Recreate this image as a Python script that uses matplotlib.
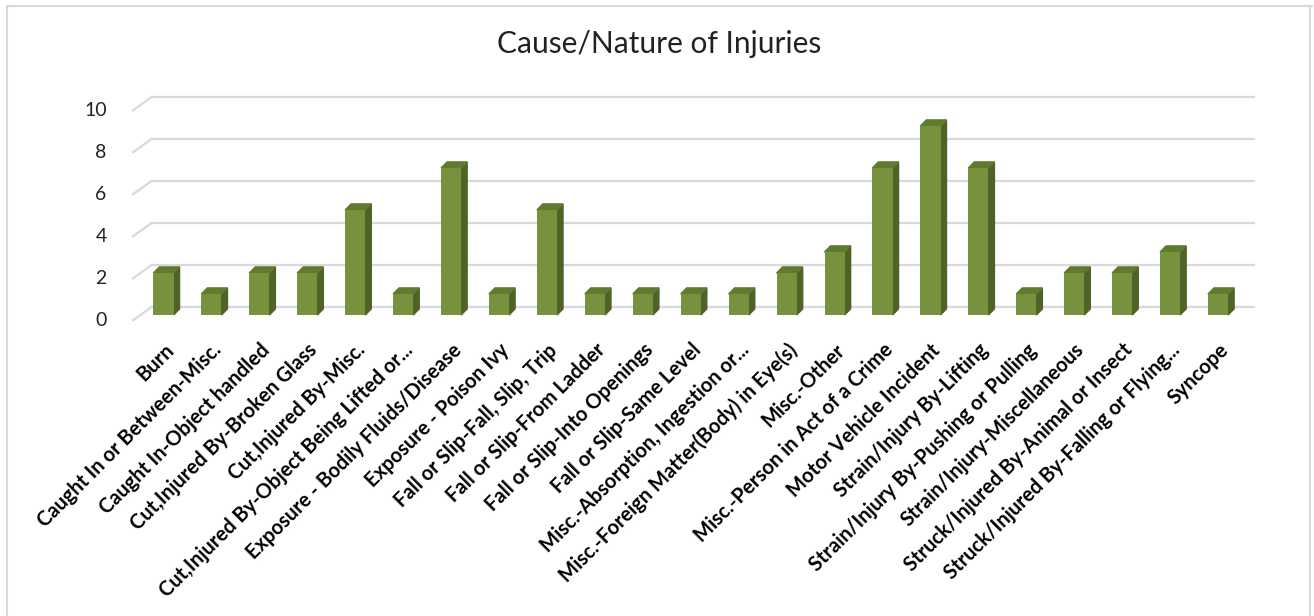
import matplotlib
matplotlib.use('Agg')
import matplotlib.pyplot as plt
import matplotlib.transforms as mtransforms
import numpy as np
from matplotlib.patches import Polygon
from matplotlib.lines import Line2D

# 데이터
categories = ['Burn', 'Caught In or Between-Misc.', 'Caught In-Object handled',
              'Cut,Injured By-Broken Glass', 'Cut,Injured By-Misc.',
              'Cut,Injured By-Object Being Lifted or...', 'Exposure - Bodily Fluids/Disease',
              'Exposure - Poison Ivy', 'Fall or Slip-Fall, Slip, Trip', 'Fall or Slip-From Ladder',
              'Fall or Slip-Into Openings', 'Fall or Slip-Same Level',
              'Misc.-Absorption, Ingestion or...', 'Misc.-Foreign Matter(Body) in Eye(s)',
              'Misc.-Other', 'Misc.-Person in Act of a Crime', 'Motor Vehicle Incident',
              'Strain/Injury By-Lifting', 'Strain/Injury By-Pushing or Pulling',
              'Strain/Injury-Miscellaneous', 'Struck/Injured By-Animal or Insect',
              'Struck/Injured By-Falling or Flying...', 'Syncope']
counts = [2, 1, 2, 2, 5, 1, 7, 1, 5, 1, 1, 1, 1, 2, 3, 7, 9, 7, 1, 2, 2, 3, 1]
yticks = [0, 2, 4, 6, 8, 10]

front_c = '#76923C'
side_c = '#4F6228'
top_c = '#5F7B2E'
grid_c = '#D9D9D9'

fig = plt.figure(figsize=(13.14, 6.16), dpi=100)
ax = fig.add_axes([133 / 1314, 1 - 315 / 616, (1254 - 133) / 1314, 210 / 616])

x = np.arange(len(counts))
w = 0.42     # 앞면 너비
dx = 0.125   # 3D 깊이 (가로)
dy = 0.29    # 3D 깊이 (세로)
back = 0.38  # 뒷벽 격자 위치

ax.set_xlim(-0.636, 22.75)
ax.set_ylim(0, 10)

# 뒷벽 격자선 + 왼쪽 비스듬한 선
for v in yticks:
    ax.plot([-0.25, 22.75], [v + back, v + back], color=grid_c, lw=1.6, zorder=0, clip_on=False)
    ax.plot([-0.636, -0.25], [v - 0.25, v + back], color=grid_c, lw=1.6, zorder=0, clip_on=False)

# 막대 (앞면, 옆면, 윗면)
ax.bar(x, counts, width=w, color=front_c, zorder=3, clip_on=False)
for xi, v in zip(x, counts):
    r = xi + w / 2
    l = xi - w / 2
    ax.add_patch(Polygon([(r, 0), (r + dx, dy), (r + dx, v + dy), (r, v)],
                         closed=True, color=side_c, zorder=2, clip_on=False))
    ax.add_patch(Polygon([(l, v), (r, v), (r + dx, v + dy), (l + dx, v + dy)],
                         closed=True, color=top_c, zorder=2, clip_on=False))

for s in ax.spines.values():
    s.set_visible(False)

ax.set_yticks(yticks)
ax.set_yticklabels([str(v) for v in yticks], fontsize=14, family='Lato', color='#222222')
ax.tick_params(axis='y', length=0, pad=19)
shift = mtransforms.ScaledTranslation(0, -0.04, fig.dpi_scale_trans)
for lab in ax.get_yticklabels():
    lab.set_transform(lab.get_transform() + shift)

ax.set_xticks(x)
ax.set_xticklabels(categories, rotation=45, ha='right', rotation_mode='anchor',
                   fontsize=14.5, fontweight='bold', family='Lato', color='black')
ax.tick_params(axis='x', length=0, pad=18)

fig.text(659 / 1314, 1 - 44 / 616, 'Cause/Nature of Injuries', ha='center', va='center',
         fontsize=21.5, family='Lato', color='#222222')

# 차트 테두리
fig.add_artist(Line2D([7 / 1314, 7 / 1314], [0, 1 - 6 / 616], color=grid_c, lw=1.5))
fig.add_artist(Line2D([7 / 1314, 1312 / 1314], [1 - 6 / 616, 1 - 6 / 616], color=grid_c, lw=1.5))
fig.add_artist(Line2D([1310 / 1314, 1310 / 1314], [0, 1 - 6 / 616], color=grid_c, lw=1.5))

fig.savefig('out.png', dpi=100, facecolor='white')
